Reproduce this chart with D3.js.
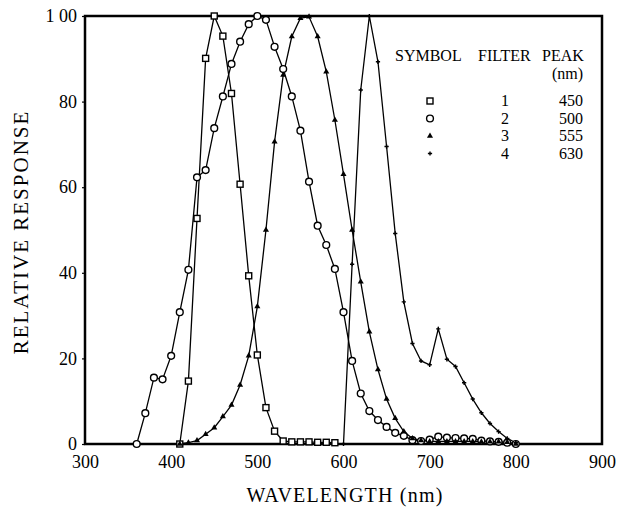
<!DOCTYPE html>
<html>
<head>
<meta charset="utf-8">
<script src="https://cdn.jsdelivr.net/npm/d3@7"></script>
<style>
  body { margin: 0; background: white; }
  text { font-family: "Liberation Serif", "DejaVu Serif", serif; fill: black; }
</style>
</head>
<body>
<div class="canvas"></div>
<script>
// filter 1 (squares, peak 450)
const f1nm = [410, 420, 430, 440, 450, 460, 470, 480, 490, 500, 510, 520, 530, 540, 550, 560, 570, 580, 590];
const f1val = [0, 14.7, 52.7, 90.1, 100, 95.3, 81.9, 60.7, 39.3, 20.8, 8.5, 3.0, 0.7, 0.5, 0.5, 0.5, 0.4, 0.4, 0.3];
// filter 2 (circles, peak 500)
const f2nm = [360, 370, 380, 390, 400, 410, 420, 430, 440, 450, 460, 470, 480, 490, 500, 510, 520, 530, 540, 550, 560, 570, 580, 590, 600, 610, 620, 630, 640, 650, 660, 670, 680, 690, 700, 710, 720, 730, 740, 750, 760, 770, 780, 790, 800];
const f2val = [0, 7.2, 15.5, 15.1, 20.6, 30.8, 40.7, 62.3, 64, 73.8, 81.2, 88.8, 94, 98.1, 100, 99.1, 92.8, 87.6, 81.2, 73.2, 61.3, 51, 46.5, 40.9, 30.8, 19.4, 11.8, 7.7, 5.6, 4.0, 2.6, 1.9, 0.9, 0.7, 1.0, 1.7, 1.5, 1.4, 1.3, 1.2, 0.8, 0.6, 0.5, 0.3, 0];
// filter 3 (triangles, peak 555)
const f3nm = [410, 420, 430, 440, 450, 460, 470, 480, 490, 500, 510, 520, 530, 540, 550, 560, 570, 580, 590, 600, 610, 620, 630, 640, 650, 660, 670, 680, 690, 700, 710, 720, 730, 740, 750, 760, 770, 780, 790, 800];
const f3val = [0, 0.3, 0.8, 2.3, 3.8, 6.4, 9.1, 13.8, 20.6, 32.1, 50, 70.6, 86.2, 95.2, 99.5, 99.8, 95.2, 87, 75.7, 63, 50, 37.9, 26.2, 17.4, 10.5, 6, 2.9, 1.3, 0.8, 0.6, 0.6, 0.6, 0.6, 0.6, 0.6, 0.5, 0.5, 0.5, 0.4, 0];
// filter 4 (plus, peak 630)
const f4nm = [600, 610, 620, 630, 640, 650, 660, 670, 680, 690, 700, 710, 720, 730, 740, 750, 760, 770, 780, 790, 800];
const f4val = [0, 42, 82.7, 100, 89.3, 69.5, 49.2, 33.2, 23.5, 19.4, 18.5, 26.9, 19.8, 18.1, 14.3, 10.5, 7.3, 4.8, 2.9, 1.3, 0.3];

const xTicks = [300, 400, 500, 600, 700, 800, 900];
const yTicks = [0, 20, 40, 60, 80, 100];
const yTickLabels = ["0", "20", "40", "60", "80", "1 00"];

const legendFilters = ["1", "2", "3", "4"];
const legendPeaks = ["450", "500", "555", "630"];

const width = 618;
const height = 509;
const plotLeft = 85, plotRight = 602, plotTop = 16, plotBottom = 444;

const svg = d3
  .select(".canvas")
  .append("svg")
  .attr("width", width)
  .attr("height", height);

const xScale = d3.scaleLinear().domain([300, 900]).range([plotLeft, plotRight]);
const yScale = d3.scaleLinear().domain([0, 100]).range([plotBottom, plotTop]);

// axes
const xAxis = svg
  .append("g")
  .attr("transform", `translate(0,${plotBottom})`)
  .call(d3.axisBottom(xScale).tickValues(xTicks).tickSize(0).tickPadding(10));
xAxis.select(".domain").remove();
xAxis.selectAll("text").attr("font-size", 18).attr("font-family", "Liberation Serif").attr("dy", "0.8em");

const yAxis = svg
  .append("g")
  .attr("transform", `translate(${plotLeft},0)`)
  .call(
    d3
      .axisLeft(yScale)
      .tickValues(yTicks)
      .tickSize(3)
      .tickPadding(5)
      .tickFormat((d, i) => yTickLabels[i])
  );
yAxis.select(".domain").remove();
yAxis.selectAll("text").attr("font-size", 18).attr("font-family", "Liberation Serif");
yAxis.selectAll("line").attr("stroke", "black").attr("stroke-width", 1.2);

// frame
svg
  .append("rect")
  .attr("x", plotLeft)
  .attr("y", plotTop)
  .attr("width", plotRight - plotLeft)
  .attr("height", plotBottom - plotTop)
  .attr("fill", "none")
  .attr("stroke", "black")
  .attr("stroke-width", 2.5);

// axis titles
svg
  .append("text")
  .attr("x", 345)
  .attr("y", 502)
  .attr("text-anchor", "middle")
  .attr("font-size", 20)
  .attr("letter-spacing", 1.2)
  .text("WAVELENGTH (nm)");

svg
  .append("text")
  .attr("transform", `translate(28,232) rotate(-90)`)
  .attr("text-anchor", "middle")
  .attr("font-size", 21)
  .attr("letter-spacing", 2)
  .text("RELATIVE RESPONSE");

// curves
const line = d3
  .line()
  .x((d) => xScale(d[0]))
  .y((d) => yScale(d[1]));

const series = [
  { nm: f1nm, val: f1val, sym: "square" },
  { nm: f2nm, val: f2val, sym: "circle" },
  { nm: f3nm, val: f3val, sym: "triangle" },
  { nm: f4nm, val: f4val, sym: "plus" },
];

function drawMarker(g, sym, x, y) {
  if (sym === "square") {
    g.append("rect")
      .attr("x", x - 3)
      .attr("y", y - 3)
      .attr("width", 6)
      .attr("height", 6)
      .attr("fill", "white")
      .attr("stroke", "black")
      .attr("stroke-width", 1.4);
  } else if (sym === "circle") {
    g.append("circle")
      .attr("cx", x)
      .attr("cy", y)
      .attr("r", 3.4)
      .attr("fill", "white")
      .attr("stroke", "black")
      .attr("stroke-width", 1.4);
  } else if (sym === "triangle") {
    g.append("path")
      .attr("d", d3.symbol(d3.symbolTriangle, 16)())
      .attr("transform", `translate(${x},${y})`)
      .attr("fill", "black");
  } else {
    g.append("path")
      .attr("d", d3.symbol(d3.symbolCross, 10)())
      .attr("transform", `translate(${x},${y})`)
      .attr("fill", "black");
  }
}

series.forEach((s) => {
  const pts = s.nm.map((n, i) => [n, s.val[i]]);
  svg
    .append("path")
    .attr("d", line(pts))
    .attr("fill", "none")
    .attr("stroke", "black")
    .attr("stroke-width", 1.3);
});

series.forEach((s) => {
  const g = svg.append("g");
  for (let i = 0; i < s.nm.length; i++) {
    drawMarker(g, s.sym, xScale(s.nm[i]), yScale(s.val[i]));
  }
});

// legend
const legend = svg.append("g");
legend.append("text").attr("x", 395).attr("y", 61).attr("font-size", 16).text("SYMBOL");
legend.append("text").attr("x", 478).attr("y", 61).attr("font-size", 16).text("FILTER");
legend.append("text").attr("x", 542).attr("y", 61).attr("font-size", 16).text("PEAK");
legend.append("text").attr("x", 552).attr("y", 79).attr("font-size", 16).text("(nm)");

const legendSyms = ["square", "circle", "triangle", "plus"];
for (let i = 0; i < legendFilters.length; i++) {
  const cy = 101 + i * 17.5;
  drawMarker(legend, legendSyms[i], 430, cy);
  legend
    .append("text")
    .attr("x", 505)
    .attr("y", cy + 5)
    .attr("text-anchor", "middle")
    .attr("font-size", 16)
    .text(legendFilters[i]);
  legend
    .append("text")
    .attr("x", 583)
    .attr("y", cy + 5)
    .attr("text-anchor", "end")
    .attr("font-size", 16)
    .text(legendPeaks[i]);
}
</script>
</body>
</html>
